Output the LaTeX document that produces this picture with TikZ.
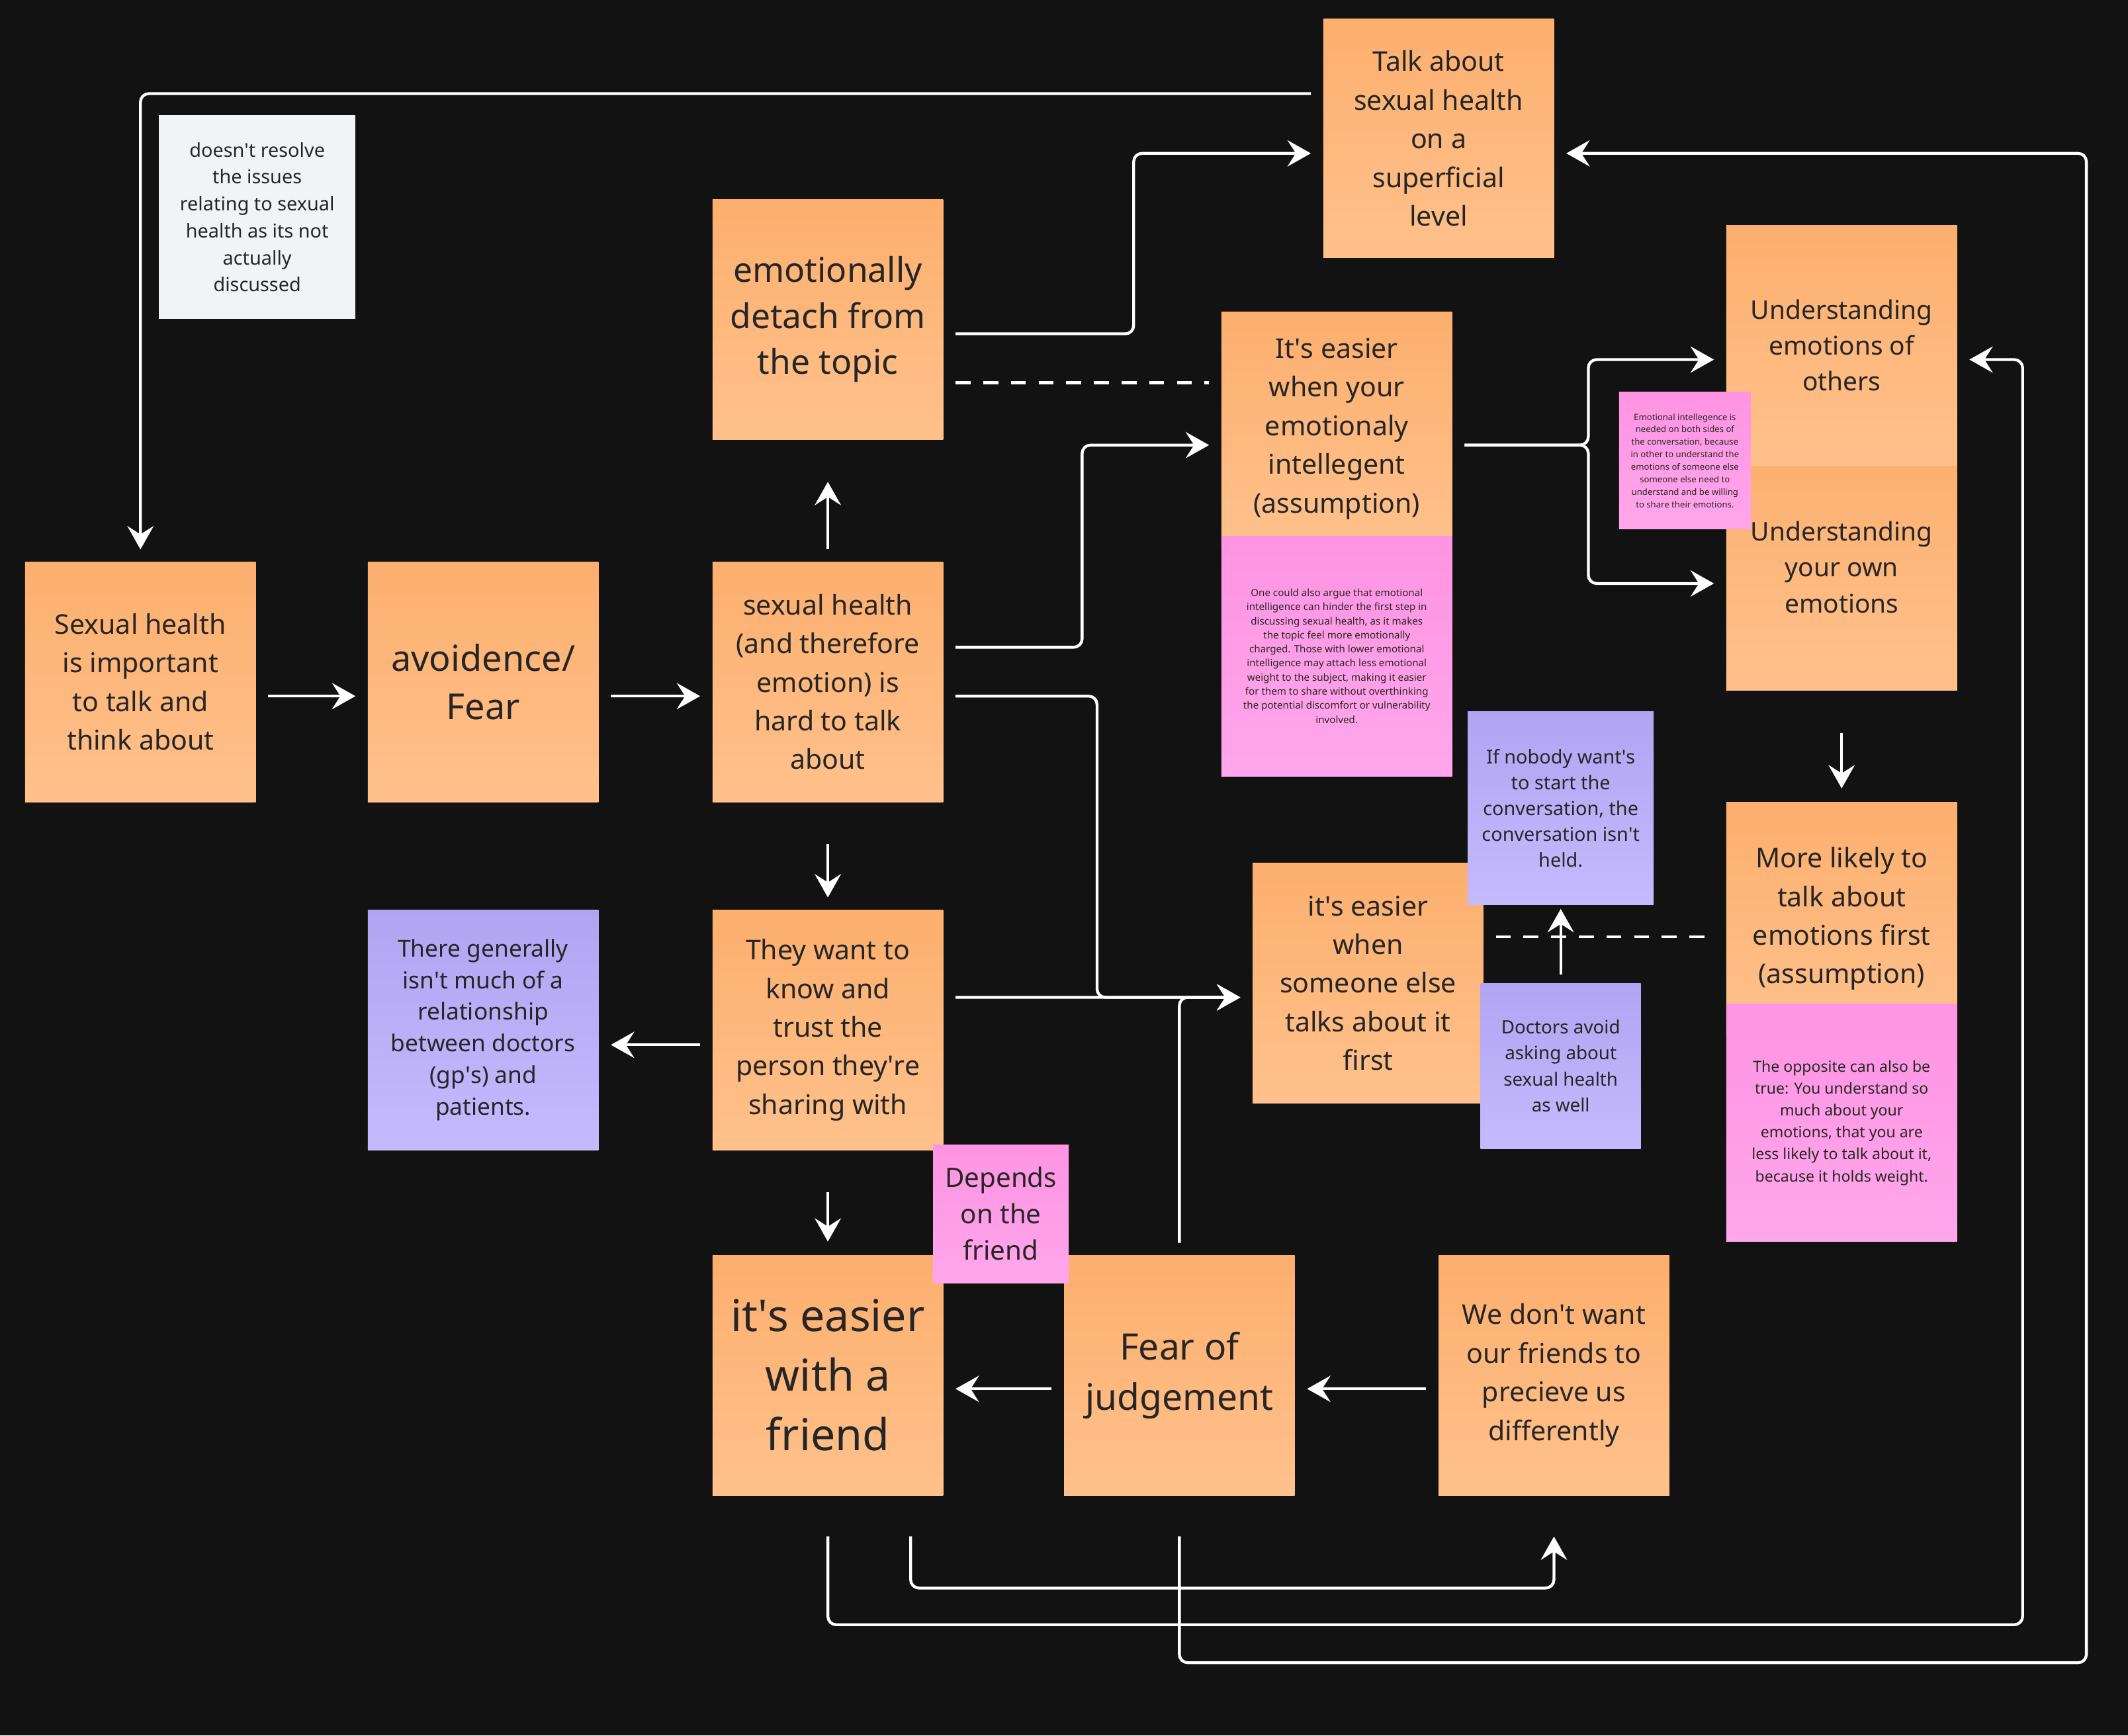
\documentclass[tikz,border=0pt]{standalone}
\usepackage{fontspec}
\setmainfont{Noto Sans}
\usetikzlibrary{arrows.meta, positioning, calc}

\definecolor{bgdark}{HTML}{121212}
\definecolor{orangetop}{HTML}{FCAF6E}
\definecolor{orangebot}{HTML}{FFC18C}
\definecolor{pinktop}{HTML}{FE94E2}
\definecolor{pinkbot}{HTML}{FFA6EC}
\definecolor{purpletop}{HTML}{B1A4F2}
\definecolor{purplebot}{HTML}{C5BAFE}
\definecolor{whitenote}{HTML}{F1F3F6}
\definecolor{inktext}{HTML}{262626}

\newcommand{\notesize}[2]{\fontsize{#1}{#2}\selectfont}
\newcommand{\ap}{\textquotesingle}

\begin{document}
\begin{tikzpicture}[x=0.02cm, y=-0.02cm,
    sticky/.style={inner sep=0pt, align=center, text=inktext, minimum width=3.4cm, minimum height=3.54cm, font=\notesize{11.4}{16.2}},
    orangenote/.style={sticky, top color=orangetop, bottom color=orangebot},
    pinknote/.style={sticky, top color=pinktop, bottom color=pinkbot},
    purplenote/.style={sticky, top color=purpletop, bottom color=purplebot},
    whitecard/.style={sticky, fill=whitenote},
    link/.style={draw=white, line width=1.2pt, rounded corners=3.5pt, -{Stealth[length=9.8pt, width=11pt, inset=3.5pt]}},
    gap/.style={shorten <=5pt, shorten >=5pt},
    dashlink/.style={draw=white, line width=1.2pt, dash pattern=on 6.3pt off 5.3pt}]

    % Background
    \fill[bgdark] (0,0) rectangle (1568,1279);

    % Top row of notes
    \node[orangenote, minimum height=3.52cm] (superficial) at (1060,102) {Talk about\\sexual health\\on a\\superficial\\level};
    \node[whitecard, minimum width=2.9cm, minimum height=3cm, font=\notesize{8}{11.3}] (unresolved) at (189.5,160) {doesn\ap t resolve\\the issues\\relating to sexual\\health as its not\\actually\\discussed};
    \node[orangenote, font=\notesize{14.3}{19.3}] (detach) at (610,235.5) {emotionally\\detach from\\the topic};
    \node[orangenote, minimum height=3.44cm] (intelligent) at (985,316) {It\ap s easier\\when your\\emotionaly\\intellegent\\(assumption)};
    \node[pinknote, font=\notesize{4.2}{5.9}] (hinder) at (985,483.5) {One could also argue that emotional\\intelligence can hinder the first step in\\discussing sexual health, as it makes\\the topic feel more emotionally\\charged. Those with lower emotional\\intelligence may attach less emotional\\weight to the subject, making it easier\\for them to share without overthinking\\the potential discomfort or vulnerability\\involved.};
    \node[orangenote, minimum height=3.64cm, font=\notesize{10.8}{15}] (own) at (1357,418) {Understanding\\your own\\emotions};
    \node[orangenote, font=\notesize{10.8}{15}] (others) at (1357,254.5) {Understanding\\emotions of\\others};
    \node[pinknote, minimum width=1.94cm, minimum height=2.02cm, font=\notesize{3.65}{5.25}] (bothsides) at (1241.5,339.5) {Emotional intellegence is\\needed on both sides of\\the conversation, because\\in other to understand the\\emotions of someone else\\someone else need to\\understand and be willing\\to share their emotions.};

    % Middle row of notes
    \node[orangenote] (important) at (103.5,502.5) {Sexual health\\is important\\to talk and\\think about};
    \node[orangenote, font=\notesize{15}{20.4}] (avoidance) at (356,502.5) {avoidence/\\Fear};
    \node[orangenote] (hard) at (610,502.5) {sexual health\\(and therefore\\emotion) is\\hard to talk\\about};
    \node[orangenote] (someone) at (1008,724.5) {it\ap s easier\\when\\someone else\\talks about it\\first};
    \node[purplenote, minimum width=2.74cm, minimum height=2.84cm, font=\notesize{8}{10.8}] (nobody) at (1150,595.5) {If nobody want\ap s\\to start the\\conversation, the\\conversation isn\ap t\\held.};
    \node[purplenote, minimum width=2.36cm, minimum height=2.44cm, font=\notesize{7.7}{11}] (doctors) at (1150,785.5) {Doctors avoid\\asking about\\sexual health\\as well};
    \node[orangenote, minimum height=3.44cm] (likely) at (1357,677) {More likely to\\talk about\\emotions first\\(assumption)};
    \node[pinknote, minimum height=3.5cm, font=\notesize{6.4}{9.2}] (opposite) at (1357,827.5) {The opposite can also be\\true: You understand so\\much about your\\emotions, that you are\\less likely to talk about it,\\because it holds weight.};

    % Lower rows of notes
    \node[purplenote, font=\notesize{9.8}{13.3}] (relationship) at (356,759) {There generally\\isn\ap t much of a\\relationship\\between doctors\\(gp\ap s) and\\patients.};
    \node[orangenote] (trust) at (610,759) {They want to\\know and\\trust the\\person they\ap re\\sharing with};
    \node[orangenote, font=\notesize{18.4}{25}] (friend) at (610,1013.5) {it\ap s easier\\with a\\friend};
    \node[orangenote, font=\notesize{15.3}{21}] (fear) at (869,1013.5) {Fear of\\judgement};
    \node[orangenote] (differently) at (1145,1013.5) {We don\ap t want\\our friends to\\precieve us\\differently};
    \node[pinknote, minimum width=2cm, minimum height=2.04cm, font=\notesize{11.2}{15.3}] (depends) at (737.5,894.5) {Depends\\on the\\friend};

    % Arrows in the top half
    \draw[link, gap] ($(superficial.west)+(0,-33)$) -| (important.north);
    \draw[link, gap] ($(detach.east)+(0,10.5)$) -- ++(140,0) |- ($(superficial.west)+(0,11)$);
    \draw[dashlink, gap] ($(detach.east)+(0,46.5)$) coordinate (dashA) -- (dashA -| intelligent.west);
    \draw[link, shorten <=5pt, shorten >=17.5pt] (hard.north) -- (detach.south);
    \draw[link, gap] ($(hard.east)+(0,-25.5)$) -- ++(102,0) |- ($(intelligent.west)+(0,12)$);
    \draw[link, gap] ($(intelligent.east)+(0,12)$) -- ++(100,0) |- ($(others.west)+(0,10.5)$);
    \draw[link, gap] ($(intelligent.east)+(0,12)$) -- ++(100,0) |- ($(own.west)+(0,12)$);
    \draw[link, shorten <=17.5pt, shorten >=5.5pt] (own.south) -- (likely.north);

    % Arrows along the middle
    \draw[link, gap] ($(important.east)+(0,10.5)$) -- ($(avoidance.west)+(0,10.5)$);
    \draw[link, gap] ($(avoidance.east)+(0,10.5)$) -- ($(hard.west)+(0,10.5)$);
    \draw[link, gap] ($(hard.east)+(0,10.5)$) -- ++(113,0) |- ($(someone.west)+(0,10.5)$);
    \draw[link, gap] ($(trust.east)+(0,-24)$) -- ($(someone.west)+(0,10.5)$);
    \draw[link, gap] (fear.north) |- ($(someone.west)+(0,10.5)$);
    \draw[dashlink, gap] ($(someone.east)+(0,-34)$) coordinate (dashB) -- (dashB -| likely.west);
    \draw[link, shorten <=3.5pt, shorten >=1.7pt] (doctors.north) -- (doctors.north |- nobody.south);
    \draw[link, shorten <=17.5pt, shorten >=5pt] (hard.south) -- (trust.north);
    \draw[link, gap] ($(trust.west)+(0,11)$) -- ($(relationship.east)+(0,11)$);
    \draw[link, shorten <=17.5pt, shorten >=5.5pt] (trust.south) -- (friend.north);

    % Arrows along the bottom
    \draw[link, gap] ($(fear.west)+(0,10)$) -- ($(friend.east)+(0,10)$);
    \draw[link, gap] ($(differently.west)+(0,10)$) -- ($(fear.east)+(0,10)$);
    \draw[link, shorten >=5pt] ($(friend.south)+(0,30)$) -- ++(0,65) -| ($(others.east)+(48,10.5)$) -- ($(others.east)+(0,10.5)$);
    \draw[link] ($(friend.south)+(61,30)$) -- ++(0,38) -| ($(differently.south)+(0,30)$);
    \draw[link, shorten >=5pt] ($(fear.south)+(0,30)$) -- ++(0,93) -| ($(superficial.east)+(392,11)$) -- ($(superficial.east)+(0,11)$);
\end{tikzpicture}
\end{document}
